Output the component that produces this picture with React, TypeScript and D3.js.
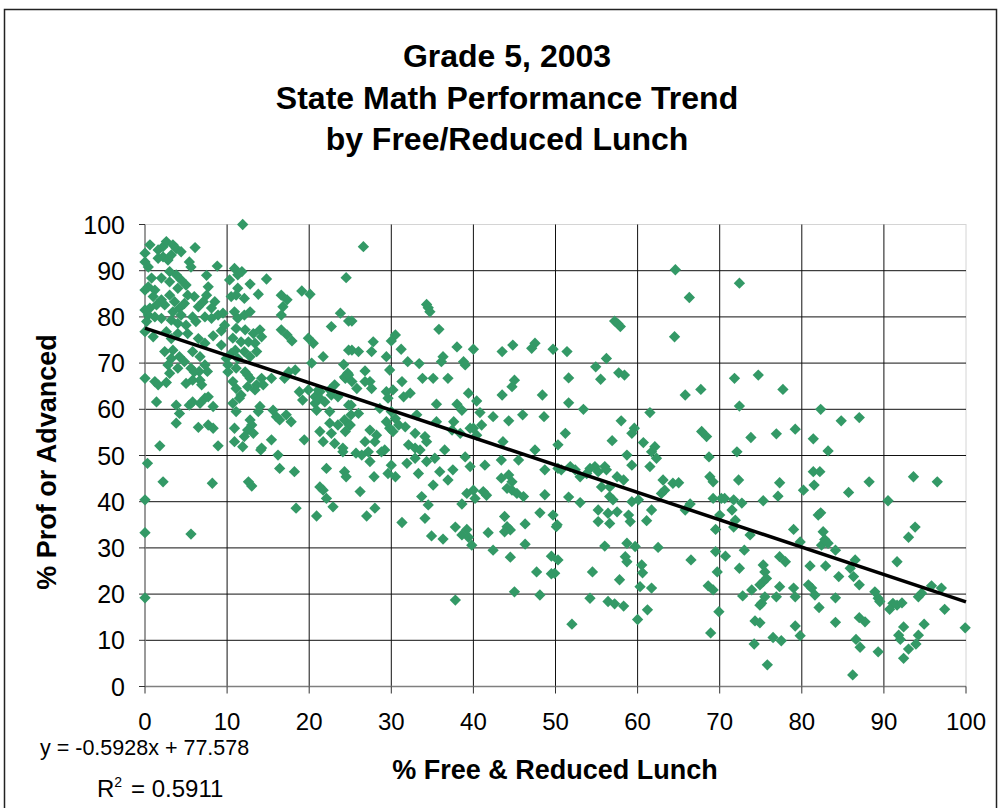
import * as React from 'react';
import * as d3 from 'd3';

const WIDTH = 1000;
const HEIGHT = 808;

const titleLines = ['Grade 5, 2003', 'State Math Performance Trend', 'by Free/Reduced Lunch'];
const xTicks = [0, 10, 20, 30, 40, 50, 60, 70, 80, 90, 100];
const yTicks = [0, 10, 20, 30, 40, 50, 60, 70, 80, 90, 100];
const trendSlope = -0.5928;
const trendIntercept = 77.578;
const rSquared = 0.5911;

// schools as [% free/reduced lunch, % proficient or advanced], grouped by lunch band
const band0 = [
  [0.6, 95.6], [0, 93.8], [0, 91.9], [0.4, 90.8], [1.6, 94.5], [2.2, 95.2], [2.6, 96.3], [3.4, 95.6],
  [3.8, 94.8], [4.4, 94.1], [6.1, 95], [1.6, 92.7], [2.2, 93], [2.8, 92.3], [3.2, 93.4], [5.4, 91.9],
  [5.6, 90.8], [8.8, 91], [7.5, 89], [3, 89.8], [3.8, 89.1], [4.4, 88], [5, 86.9], [4, 86.2], [3, 87.6],
  [2, 88.4], [0.8, 88.4], [0.4, 86.5], [1.2, 85.8], [7.7, 86.5], [7.5, 84.7], [8.5, 83.3], [8.1, 81.9],
  [7.1, 83.3], [6.5, 82.2], [6, 84.4], [5.2, 84.7], [4.8, 82.9], [1, 84.4], [2, 83.7], [3, 84.7],
  [3.6, 83.3], [4.2, 81.9], [4.4, 80.4], [3.4, 81.1], [2.4, 82.6], [1.4, 82.6], [0.6, 81.9], [0.4, 80.4],
  [1.2, 80], [2, 79.7], [3.2, 79.3], [4, 78.6], [5, 78.2], [5.8, 80], [6.2, 79], [7.3, 80], [8.1, 79.7],
  [8.9, 80.4], [9.5, 80.8], [0, 85.8], [0, 81.5], [0.2, 79], [0, 76.8], [1, 75.7], [2.6, 76.8], [3.2, 75.3],
  [4, 76.4], [5.2, 76.4], [6.5, 75.3], [7.3, 74.3], [8.3, 75.9], [9.3, 77], [9.7, 78.2], [2.4, 72.5],
  [3.4, 72.8], [3.2, 71], [4.2, 71.4], [2.8, 69.6], [4, 68.9], [4.8, 70.3], [5.8, 72.5], [6.7, 71.4],
  [7.3, 69.6], [5.6, 68.9], [6.6, 68.2], [7.6, 68.2], [9.3, 73.9], [9.9, 71], [0, 66.7], [1.2, 66],
  [1.6, 65.3], [2.6, 65.8], [3, 67.8], [1.4, 61.6], [3.8, 60.9], [4.2, 59.1], [5, 65.6], [5.8, 66.3],
  [6.7, 66.3], [6.9, 65.3], [6, 68.1], [5.4, 60.9], [5.8, 61.6], [6.7, 61.3], [7.3, 62.4], [7.7, 62.7],
  [8.3, 60.6], [3.8, 57], [6.5, 56.1], [7.7, 56.6], [8.3, 55.9], [1.8, 52.1], [8.9, 52.1], [0.3, 48.3],
  [0, 40.4], [0, 33.3], [0, 19.2], [2.2, 44.3], [8.2, 44], [5.6, 33],
];
const band10 = [
  [11.9, 100], [10.9, 90.5], [11.3, 89.1], [10.3, 88], [11.3, 86.2], [11.8, 89.8], [14.8, 88.2], [12.8, 87.1],
  [13.8, 84.9], [10.5, 84.4], [11.1, 84.7], [12.1, 84], [10.9, 81.1], [11.3, 79.7], [12.1, 80.4], [12.8, 81.1],
  [16.6, 84.7], [17.3, 83.7], [16.8, 82.2], [16.6, 80.4], [19.1, 85.6], [11.1, 77.5], [10.7, 75.4], [11.7, 74.6],
  [12.1, 72.5], [10.5, 72.1], [11.3, 71], [10.1, 69.6], [11.1, 68.9], [12.2, 77.2], [13.2, 76.4], [14, 77.2],
  [14.2, 75.7], [12.6, 74.6], [13.4, 74.3], [13.6, 72.5], [12.8, 71.4], [11, 72.8], [16.6, 77.2], [17.3, 76.1],
  [17.9, 74.8], [19.9, 75.4], [10.1, 68.1], [12.2, 68.1], [12.8, 66.7], [14.2, 66.7], [13.6, 65.3], [15.4, 66.7],
  [17.5, 68.1], [18.3, 68.5], [19.9, 64.2], [10.7, 66], [11.1, 64.5], [11.7, 63.1], [12.5, 67.4], [12.5, 64.9],
  [13.4, 64.2], [14.4, 65.3], [11.5, 62.4], [10.7, 61.3], [11.1, 59.5], [12.8, 57.7], [13, 56.6], [12.5, 55.5],
  [13.2, 54.8], [12.1, 54.1], [10.9, 55.9], [10.9, 53], [11.9, 51.9], [14, 60.6], [13.8, 59.5], [14.2, 51.6],
  [15.4, 53.4], [16.2, 50.1], [16.4, 47.2], [18.2, 46.5], [15.6, 59.8], [16, 58.4], [16.4, 57.7], [17.2, 58.8],
  [17.8, 57.3], [17, 66.7], [18.8, 63.8], [19.2, 62], [19.4, 53.4], [12.6, 44.3], [13, 43.4], [14.1, 51.2],
  [18.4, 38.6],
];
const band20 = [
  [24.5, 88.5], [20.1, 84.9], [23.8, 80.8], [22.7, 77.9], [24.8, 79.1], [20.5, 74.3], [21.7, 71.4], [20.3, 70],
  [24.2, 69.7], [24.8, 72.8], [20.7, 62.7], [21.3, 63.8], [23.1, 65.3], [24.4, 66.7], [20.7, 61.3], [21.1, 64.2],
  [21.3, 62.4], [21.9, 61.6], [22.5, 64.2], [22.7, 63.1], [23.5, 62.7], [24.3, 67], [24.7, 67.8], [20.9, 59.8],
  [22.5, 59.5], [22.5, 57], [23.5, 56.6], [24.3, 57.7], [24.9, 56.6], [25.1, 60.9], [25.1, 58.8], [21.3, 55.2],
  [21.7, 53], [22.7, 54.8], [23.1, 52.6], [24.1, 51.6], [22.1, 47.2], [24.3, 46.5], [24.5, 45.4], [21.3, 43.2],
  [21.7, 42.5], [22.1, 40.7], [25.7, 50.5], [20.9, 36.9], [22.9, 38.9], [24.1, 50.8], [26.6, 95.2], [25.2, 79.1],
  [27.8, 74.6], [25.2, 72.8], [26, 72.5], [27.6, 72.5], [29.4, 71.4], [24.8, 67.4], [25.2, 66], [26.8, 68.3],
  [29.8, 68.5], [25.8, 64.5], [27.4, 66], [27.6, 64.5], [26.8, 66], [29.4, 63.8], [29.6, 62.4], [24.8, 60.9],
  [26, 59.1], [25, 56.6], [28.6, 60.2], [29.4, 57.3], [29.8, 55.9], [27.4, 55.5], [28.2, 54.4], [28, 53],
  [29.2, 51.2], [26.8, 53], [27.2, 50.8], [24.4, 55.2], [26.4, 50.1], [27.4, 48.7], [28.8, 50.8], [27.9, 45.4],
  [26.2, 42.2], [28, 38.6], [27, 36.9], [29.6, 46.1],
];
const band30 = [
  [34.3, 82.7], [34.5, 82], [34.7, 81.1], [35.8, 77.3], [30.5, 76.1], [30, 74.8], [31.2, 73], [38, 73.5],
  [32, 70.3], [33.4, 69.9], [36.3, 71.4], [36.1, 70.3], [38.8, 70.3], [39, 69.6], [31.3, 66], [33.8, 66.7],
  [35.1, 66.7], [36.9, 66.7], [39.4, 63.5], [30.2, 64.2], [31.5, 62.7], [32.3, 63.5], [35.5, 61.1], [38, 61.1],
  [38.6, 59.8], [30, 59.5], [30.5, 58], [30.9, 56.6], [30.2, 55.2], [31.7, 56.2], [32.9, 54.8], [34.1, 54.1],
  [34.3, 53], [33.1, 58.8], [35.5, 57.3], [37.6, 57.3], [37.4, 55.5], [38.4, 54.8], [39.6, 55.9], [32.1, 52.3],
  [32.9, 51.6], [33.5, 51.2], [36.5, 51.2], [30, 47.9], [30.5, 45.4], [31.9, 48.3], [32.9, 49.4], [33.3, 46.1],
  [34.3, 48.7], [35.3, 49.4], [35.1, 43.6], [35.9, 46.5], [36.9, 44.7], [37.5, 46.9], [33.7, 41.1], [34.5, 39.3],
  [31.3, 35.5], [34.1, 36.4], [34.9, 32.6], [36.3, 31.9], [37.8, 18.7], [37.8, 34.5], [38.6, 32.8], [39.2, 34],
  [39.4, 32.3], [39.8, 30.6], [38.6, 39.5], [39, 49.7], [39.6, 47.6], [39.2, 41.8],
];
const band40 = [
  [40, 73], [43.5, 72.5], [44.8, 73.9], [47.1, 73.2], [47.5, 74.3], [49.7, 73], [40.4, 61.8], [43.5, 63.1],
  [45, 66.3], [44.7, 64.9], [48.4, 63.1], [40.8, 59.3], [42.4, 58.4], [44.3, 57.5], [46, 58.8], [48.6, 58.4],
  [40, 55.9], [40.4, 54.4], [41, 56.6], [43.6, 53], [47.5, 51.2], [40, 42.5], [40.2, 40.7], [41.2, 42.2],
  [41.6, 41.4], [41.4, 47.9], [41.8, 33.3], [42.4, 29.5], [43.4, 49], [43.4, 45.1], [44.3, 45.8], [44.7, 44.3],
  [44.1, 42.9], [44.7, 42.5], [45.3, 41.8], [46.1, 41.1], [43.8, 36.8], [44.1, 34.6], [44.5, 33.9], [43.8, 33.5],
  [46.3, 35.2], [44.5, 28], [46.3, 30.8], [45, 20.5], [45.5, 49], [48.7, 46.9], [48.7, 41.5], [48.1, 37.6],
  [49.7, 37.1], [47.7, 24.8], [49.5, 28.2], [49.5, 24.4], [48.1, 19.8],
];
const band50 = [
  [50.3, 52.3], [50.1, 34.6], [50.3, 27.4], [50.3, 47.2], [58.7, 50.1], [59.3, 47.9], [50.7, 46.9], [51.8, 47.6],
  [52.4, 46.9], [53, 45.4], [53.8, 46.1], [54.2, 47.2], [54.8, 47.6], [55.2, 46.5], [56, 47.6], [56.2, 46.9],
  [55.6, 43.2], [56.6, 43.2], [57.5, 45.4], [58.3, 44.7], [51.6, 41], [53, 39.8], [56.6, 41.1], [57, 40.4],
  [55.2, 38.2], [56.4, 37.5], [57.5, 37.8], [55.2, 35.7], [56.6, 35.3], [59.3, 40], [58.9, 37.1], [59.1, 35.7],
  [50.2, 35], [56, 30.4], [58.7, 31], [59.7, 30.3], [58.5, 28.1], [58.7, 27], [49.9, 24.5], [54.5, 24.8],
  [57.8, 23.1], [54.2, 19.1], [56.4, 18.4], [57.2, 17.9], [58.3, 17.4], [52, 13.5], [57.2, 79.1], [57.6, 78.5],
  [57.9, 77.9], [51.4, 72.5], [56.2, 71], [54.9, 69.2], [51.6, 66.8], [55.5, 66.5], [57.7, 67.9], [58.4, 67.4],
  [51.6, 61.4], [53.4, 60], [58, 57.5], [59.6, 55.9], [59.3, 54.8], [51.2, 54.8], [56.9, 53.2],
];
const band60 = [
  [61.5, 47.6], [61.7, 50.8], [62.3, 49.4], [60.1, 40.4], [61.7, 38.2], [61.1, 35.9], [62.9, 41.8], [63.3, 42.5],
  [63.1, 44.7], [64.3, 44], [65, 44.1], [65.8, 38.2], [66.4, 39.5], [68.8, 45.4], [69.2, 44.3], [68.7, 49.7],
  [69.2, 40.7], [69.5, 34], [62.5, 30.1], [60.5, 26.3], [60.6, 24.6], [60.3, 21.6], [61.7, 21.3], [66.5, 27.4],
  [69.5, 29.2], [69.7, 24.8], [68.6, 21.8], [69.2, 20.9], [60, 14.5], [61.2, 16.6], [69.9, 16.2], [68.9, 11.6],
  [64.6, 90.2], [66.3, 84.2], [64.5, 75.7], [61.5, 59.3], [60.7, 52.8], [62.1, 51.9], [65.8, 63.1], [67.7, 64.3],
  [67.8, 55.2], [68.4, 54.1],
];
const band70 = [
  [70.2, 40.7], [70.6, 40.7], [72.3, 44.7], [72.1, 50.8], [71.7, 40.4], [72.7, 39.7], [71.5, 38.2], [70, 37.1],
  [71.9, 36], [71.7, 34.5], [73.7, 32.8], [75.3, 40.2], [70.7, 28.2], [72.4, 25.6], [73, 29.5], [72.8, 19.6],
  [73.9, 20.9], [75.3, 26.3], [75.5, 24.8], [75.3, 22.7], [74.9, 22], [75.5, 19.4], [75.1, 18], [74.9, 17.6],
  [74.3, 14.2], [74.9, 13.8], [74.2, 9.2], [75.8, 4.7], [72.4, 87.3], [71.8, 66.7], [74.7, 67.4], [72.4, 60.7],
  [73.8, 53.9], [77.7, 64.3], [76.9, 54.7], [79.2, 55.7], [77.3, 44.1], [77.1, 41.2], [79, 34], [79.8, 31.3],
  [77.3, 28.1], [78, 27], [75.7, 23.4], [77.3, 21.6], [76.9, 19.4], [79, 21.3], [79.2, 19.4], [79.2, 13.1],
  [79.8, 11], [76.5, 10.6], [77.5, 9.9],
];
const band80 = [
  [82.3, 60], [84.8, 57.5], [87, 58.2], [81.4, 53.6], [83.2, 51], [81.4, 46.5], [82.2, 46.5], [81.5, 43.6],
  [80.2, 42.5], [85.7, 42], [88.2, 44.3], [82, 37.1], [82.3, 37.6], [82.6, 33.5], [82.4, 30.6], [83.2, 31],
  [82.8, 31.8], [84.1, 29.5], [81, 26.1], [82.9, 26.1], [86.5, 27.4], [85.9, 25.6], [84.5, 23.8], [86.3, 23.8],
  [87, 22], [80.8, 22], [81.2, 21.3], [81.6, 19.8], [82.1, 17.1], [84.1, 19.2], [88.9, 20.5], [89.3, 19.1],
  [89.5, 18.4], [84.1, 13.9], [86.6, 10.2], [87.1, 8.5], [87, 14.9], [87.7, 14], [89.3, 7.5], [86.2, 2.5],
];
const band90 = [
  [93.6, 45.4], [96.5, 44.3], [90.5, 40.2], [93.8, 34.5], [93, 32.3], [91.6, 27], [91.1, 18], [91.6, 17.6],
  [92.2, 18.1], [90.7, 16.7], [94.2, 19.4], [94.6, 20.2], [95.8, 21.8], [97, 21.3], [97.4, 16.7], [99.9, 12.7],
  [94.9, 13.5], [92.4, 12.9], [91.8, 11.1], [92, 10.2], [94.2, 11.1], [93.9, 9.2], [93, 8.1], [92.4, 6.1],
];

const schools = [...band0, ...band10, ...band20, ...band30, ...band40, ...band50, ...band60, ...band70, ...band80, ...band90];

const FONT = '"Liberation Sans", Arial, sans-serif';

export default function App() {
  const x = d3.scaleLinear().domain([0, 100]).range([145, 966]);
  const y = d3.scaleLinear().domain([0, 100]).range([686.5, 224.5]);

  const marker = d3.symbol().type(d3.symbolSquare).size(64)();
  const trend = d3
    .line<number>()
    .x(d => x(d))
    .y(d => y(trendSlope * d + trendIntercept))([0, 100]);

  return (
    <svg width={WIDTH} height={HEIGHT} style={{ position: 'absolute', left: 0, top: 0, display: 'block' }} fontFamily={FONT}>
      <rect x={0} y={0} width={WIDTH} height={HEIGHT} fill="white" />
      <rect x={4.5} y={9.5} width={992} height={820} fill="none" stroke="#222" strokeWidth={1.5} />

      {titleLines.map((t, i) => (
        <text key={t} x={507} y={67 + i * 41.5} textAnchor="middle" fontSize={32} fontWeight="bold">
          {t}
        </text>
      ))}

      {/* plot area border */}
      <rect x={x(0)} y={y(100)} width={x(100) - x(0)} height={y(0) - y(100)} fill="white" stroke="#d4d4d4" strokeWidth={1} />

      {/* gridlines */}
      {yTicks.filter(v => v > 0 && v < 100).map(v => (
        <line key={'gy' + v} x1={x(0)} x2={x(100)} y1={y(v)} y2={y(v)} stroke="#111" strokeWidth={1} />
      ))}
      {xTicks.filter(v => v > 0 && v < 100).map(v => (
        <line key={'gx' + v} x1={x(v)} x2={x(v)} y1={y(0)} y2={y(100)} stroke="#111" strokeWidth={1} />
      ))}

      {/* axes */}
      <line x1={x(0)} x2={x(0)} y1={y(0)} y2={y(100)} stroke="#7f7f7f" strokeWidth={1.5} />
      <line x1={x(0)} x2={x(100)} y1={y(0)} y2={y(0)} stroke="#7f7f7f" strokeWidth={1.5} />
      {yTicks.map(v => (
        <g key={'ty' + v}>
          <line x1={x(0) - 6} x2={x(0)} y1={y(v)} y2={y(v)} stroke="#333" strokeWidth={1} />
          <text x={125} y={y(v)} dy="0.36em" textAnchor="end" fontSize={25}>
            {v}
          </text>
        </g>
      ))}
      {xTicks.map(v => (
        <g key={'tx' + v}>
          <line x1={x(v)} x2={x(v)} y1={y(0)} y2={y(0) + 7} stroke="#333" strokeWidth={1} />
          <text x={x(v)} y={730} textAnchor="middle" fontSize={24}>
            {v}
          </text>
        </g>
      ))}

      {/* points */}
      {schools.map((d, i) => (
        <path
          key={i}
          d={marker}
          transform={`translate(${x(d[0])},${y(d[1])}) rotate(45)`}
          fill="#339966"
        />
      ))}

      <path d={trend || ''} stroke="#000" strokeWidth={3.5} fill="none" />

      {/* labels */}
      <text x={555} y={779} textAnchor="middle" fontSize={27} fontWeight="bold">
        % Free &amp; Reduced Lunch
      </text>
      <text transform="translate(56,462) rotate(-90)" textAnchor="middle" fontSize={27} fontWeight="bold">
        % Prof or Advanced
      </text>
      <text x={40} y={755} fontSize={21.5}>
        {`y = ${trendSlope}x + ${trendIntercept}`}
      </text>
      <text x={97} y={797} fontSize={24}>
        R<tspan fontSize={14} dy={-10}>2</tspan>
        <tspan x={131} dy={10}>{`= ${rSquared}`}</tspan>
      </text>
    </svg>
  );
}
